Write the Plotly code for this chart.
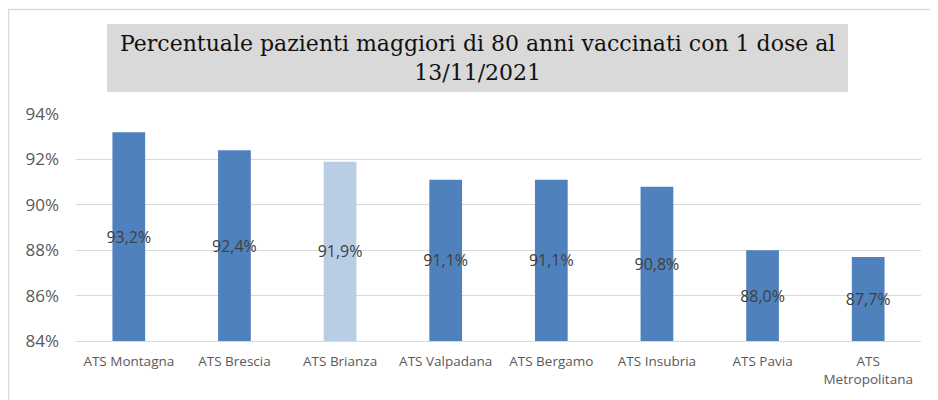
import plotly.graph_objects as go

categories = ["ATS Montagna", "ATS Brescia", "ATS Brianza", "ATS Valpadana",
              "ATS Bergamo", "ATS Insubria", "ATS Pavia", "ATS<br>Metropolitana"]
values = [93.2, 92.4, 91.9, 91.1, 91.1, 90.8, 88.0, 87.7]
labels = ["93,2%", "92,4%", "91,9%", "91,1%", "91,1%", "90,8%", "88,0%", "87,7%"]
colors = ["#4f81bd", "#4f81bd", "#b9cde5", "#4f81bd", "#4f81bd", "#4f81bd", "#4f81bd", "#4f81bd"]
y_ticks = [84, 86, 88, 90, 92, 94]
y_ticktext = ["84%", "86%", "88%", "90%", "92%", "94%"]
title_text = "Percentuale pazienti maggiori di 80 anni vaccinati con 1 dose al<br>13/11/2021"

fig = go.Figure(go.Bar(
    x=categories, y=[v - 84 for v in values], base=84,
    marker=dict(color=colors, line=dict(width=0)),
    text=labels, textposition="inside", insidetextanchor="middle",
    textangle=0,
    textfont=dict(family="Open Sans", size=16, color="#404040"),
    width=0.31, cliponaxis=False,
))

# screen mapping (page has 8px body offset): x_px = 76 + 845*px ; y_px = 341 - 227*py
def px(x):
    return (x - 76) / 845

def py(y):
    return (341 - y) / 227

shapes = [
    dict(type="rect", xref="paper", yref="paper", x0=px(107), x1=px(848), y0=py(92), y1=py(24),
         fillcolor="#d9d9d9", line=dict(width=0), layer="below"),
    dict(type="line", xref="paper", yref="paper", x0=px(8.5), x1=px(8.5), y0=py(420), y1=py(9.5),
         line=dict(color="#d9d9d9", width=1.5)),
    dict(type="line", xref="paper", yref="paper", x0=px(8), x1=px(950), y0=py(9.5), y1=py(9.5),
         line=dict(color="#d9d9d9", width=1.5)),
]

fig.update_layout(
    width=938, height=400,
    margin=dict(l=68, r=25, t=106, b=67),
    paper_bgcolor="white", plot_bgcolor="white",
    showlegend=False,
    bargap=0.69,
    shapes=shapes,
    annotations=[dict(text=title_text, xref="paper", yref="paper", x=px(477), y=py(58),
                      xanchor="center", yanchor="middle", showarrow=False,
                      font=dict(family="DejaVu Serif", size=22, color="#111111"))],
    xaxis=dict(showgrid=False, showline=True, linecolor="#d9d9d9", linewidth=1,
               tickfont=dict(family="Open Sans", size=13.5, color="#595959"),
               ticks="", fixedrange=True, ticklabelstandoff=8),
    yaxis=dict(range=[84, 94], tickvals=y_ticks, ticktext=y_ticktext,
               showgrid=True, gridcolor="#d9d9d9", gridwidth=1, zeroline=False,
               tickfont=dict(family="Open Sans", size=17, color="#595959"),
               ticks="", ticklen=0, fixedrange=True, ticklabelstandoff=16),
    uniformtext=dict(minsize=16, mode="show"),
)

fig.write_html("out.html")
